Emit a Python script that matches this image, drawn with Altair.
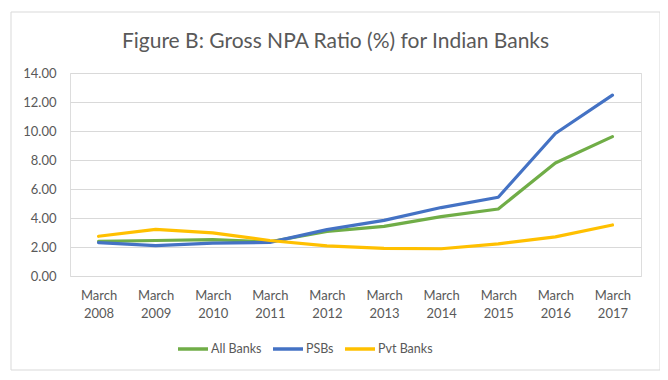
import altair as alt
import pandas as pd

years = ["March 2008", "March 2009", "March 2010", "March 2011", "March 2012",
         "March 2013", "March 2014", "March 2015", "March 2016", "March 2017"]
all_banks = [2.39, 2.45, 2.51, 2.36, 3.08, 3.42, 4.10, 4.62, 7.79, 9.61]
psbs = [2.30, 2.09, 2.27, 2.32, 3.20, 3.84, 4.72, 5.43, 9.83, 12.47]
pvt_banks = [2.74, 3.22, 2.97, 2.45, 2.08, 1.91, 1.88, 2.22, 2.70, 3.52]
series_names = ["All Banks", "PSBs", "Pvt Banks"]
colors = ["#70AD47", "#4472C4", "#FFC000"]

rows = []
for name, vals in zip(series_names, [all_banks, psbs, pvt_banks]):
    for y, v in zip(years, vals):
        rows.append({"Year": y, "Series": name, "Value": v})
df = pd.DataFrame(rows)

FONT = "Lato"
TXT = "#595959"

frame = alt.Chart(pd.DataFrame({"a": [0]})).mark_rect(
    fill=None, stroke="#D9D9D9", strokeWidth=1
).encode(
    x=alt.value(-59), x2=alt.value(590),
    y=alt.value(-61), y2=alt.value(297)
)

lines = alt.Chart(df).mark_line(strokeWidth=3.2, strokeCap="round", strokeJoin="round").encode(
    x=alt.X("Year:N", sort=years, title=None,
            scale=alt.Scale(paddingInner=0, paddingOuter=0.5),
            axis=alt.Axis(labelAngle=0, labelExpr="split(datum.label, ' ')",
                          ticks=False, domain=False, grid=False,
                          labelFont=FONT, labelFontSize=13, labelColor=TXT,
                          labelPadding=13, labelLineHeight=18)),
    y=alt.Y("Value:Q", title=None,
            scale=alt.Scale(domain=[0, 14], nice=False),
            axis=alt.Axis(values=[0, 2, 4, 6, 8, 10, 12, 14], format=".2f",
                          ticks=False, domain=False, grid=True,
                          gridColor="#D9D9D9", gridWidth=1,
                          labelFont=FONT, labelFontSize=13, labelColor=TXT,
                          labelPadding=14)),
    color=alt.Color("Series:N", sort=series_names,
                    scale=alt.Scale(domain=series_names, range=colors),
                    legend=alt.Legend(title=None, orient="none", direction="horizontal",
                                      legendX=106, legendY=259,
                                      symbolType="stroke", symbolSize=900,
                                      symbolStrokeWidth=3.5, labelFont=FONT,
                                      labelFontSize=12.5, labelColor=TXT,
                                      columnPadding=4, labelOffset=1))
)

chart = alt.layer(frame, lines).properties(
    width=571, height=203,
    title=alt.TitleParams("Figure B: Gross NPA Ratio (%) for Indian Banks",
                          font=FONT, fontSize=21, fontWeight="normal", color=TXT,
                          anchor="middle", dx=-20, offset=-40),
    padding={"left": 62, "top": 65, "right": 19, "bottom": 96},
    autosize=alt.AutoSizeParams(type="none")
).configure_view(stroke=None).configure(background="white")

chart.save("out.html", embed_options={"renderer": "svg", "actions": False})
